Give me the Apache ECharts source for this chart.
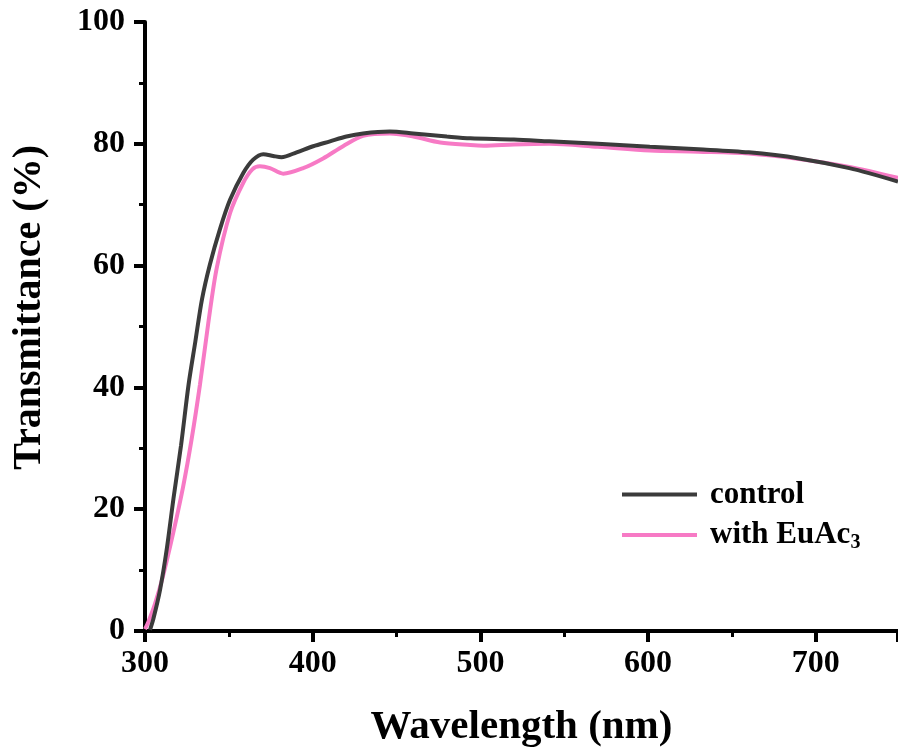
<!DOCTYPE html>
<html>
<head>
<meta charset="utf-8">
<script src="https://cdn.jsdelivr.net/npm/echarts@6/dist/echarts.min.js"></script>
<style>html,body{margin:0;padding:0;background:#fff;}#c{width:898px;height:753px;}</style>
</head>
<body>
<div id="c"></div>
<script>
var seriesNames = ['control', 'with EuAc3'];
var controlData = [[303,0.2],[305,2.0],[309,6.8],[313,13.5],[317,21.8],[321.5,30.5],[326,40.5],[330,47.5],[334,54.5],[338.7,60.2],[344.7,66.0],[350.7,70.8],[358.6,75.2],[364.5,77.4],[370.5,78.3],[376.5,78.0],[381.4,77.8],[390.4,78.6],[400.3,79.6],[410.3,80.4],[420.1,81.2],[430,81.7],[446,82.0],[460,81.7],[480,81.2],[494,80.9],[520,80.7],[541,80.4],[570,80.0],[601,79.5],[630,79.1],[660,78.6],[690,77.6],[720,76.0],[749,73.8]];
var euacData = [[300,0.3],[302,1.5],[306,4.5],[310.7,9.0],[316.9,16.2],[322.8,23.8],[327.8,31.5],[332.8,40.5],[337.7,50.5],[342.7,59.5],[350.7,68.6],[358.6,73.6],[364,75.8],[368.5,76.3],[374.5,76.0],[382.4,75.1],[394.3,76.0],[406.2,77.6],[418.1,79.6],[430,81.3],[446,81.7],[460,81.2],[476,80.2],[494,79.8],[502,79.7],[520,79.9],[541,80.0],[570,79.5],[601,78.9],[630,78.7],[660,78.4],[690,77.5],[720,76.2],[749,74.4]];
var xTicks = {min: 300, max: 749, interval: 100};
var yTicks = {min: 0, max: 100, interval: 20};
var yTitle = 'Transmittance (%)';
var xTitle = 'Wavelength (nm)';

var FF = '"Liberation Serif","Times New Roman",serif';
var chart = echarts.init(document.getElementById('c'), null, {renderer: 'canvas'});
var axisCommon = {
  axisLine: {show: true, lineStyle: {color: '#000', width: 4}},
  axisTick: {show: true, inside: false, length: 11, lineStyle: {color: '#000', width: 4}},
  minorTick: {show: true, splitNumber: 2, length: 6, lineStyle: {color: '#000', width: 3}},
  splitLine: {show: false},
  axisLabel: {color: '#000', fontFamily: FF, fontWeight: 'bold', fontSize: 32}
};
chart.setOption({
  backgroundColor: '#fff',
  animation: false,
  grid: {left: 145, right: 0, top: 22, bottom: 121},
  graphic: [{
    type: 'text', left: 10, top: 145, rotation: Math.PI / 2, silent: true,
    style: {text: yTitle, fill: '#000', font: 'bold 40px ' + FF}
  }],
  legend: {
    orient: 'vertical', left: 617, top: 474,
    itemWidth: 75, itemHeight: 4, icon: 'rect', itemGap: 7,
    data: seriesNames,
    formatter: function (n) { return n === 'control' ? '{a|control}' : '{a|with EuAc}{b|3}'; },
    textStyle: {
      color: '#000', fontFamily: FF, fontWeight: 'bold', fontSize: 31,
      rich: {
        a: {color: '#000', fontFamily: FF, fontWeight: 'bold', fontSize: 31, lineHeight: 32, padding: [0, 0, 0, 8]},
        b: {color: '#000', fontFamily: FF, fontWeight: 'bold', fontSize: 20, lineHeight: 32, padding: [16, 0, 0, 0]}
      }
    }
  },
  xAxis: Object.assign({}, axisCommon, {
    type: 'value', min: xTicks.min, max: xTicks.max, interval: xTicks.interval,
    name: xTitle, nameLocation: 'middle', nameGap: 76,
    nameTextStyle: {color: '#000', fontFamily: FF, fontWeight: 'bold', fontSize: 41},
    axisLabel: Object.assign({}, axisCommon.axisLabel, {margin: 17, showMaxLabel: false})
  }),
  yAxis: Object.assign({}, axisCommon, {
    type: 'value', min: yTicks.min, max: yTicks.max, interval: yTicks.interval,
    axisLabel: Object.assign({}, axisCommon.axisLabel, {margin: 20})
  }),
  series: [
    {name: seriesNames[0], type: 'line', data: controlData, smooth: 0.3, showSymbol: false, symbol: 'none',
     lineStyle: {color: '#3b3b3b', width: 4}, itemStyle: {color: '#3b3b3b'}, z: 3},
    {name: seriesNames[1], type: 'line', data: euacData, smooth: 0.3, showSymbol: false, symbol: 'none',
     lineStyle: {color: '#f77ac5', width: 4}, itemStyle: {color: '#f77ac5'}, z: 2}
  ]
});
</script>
</body>
</html>
